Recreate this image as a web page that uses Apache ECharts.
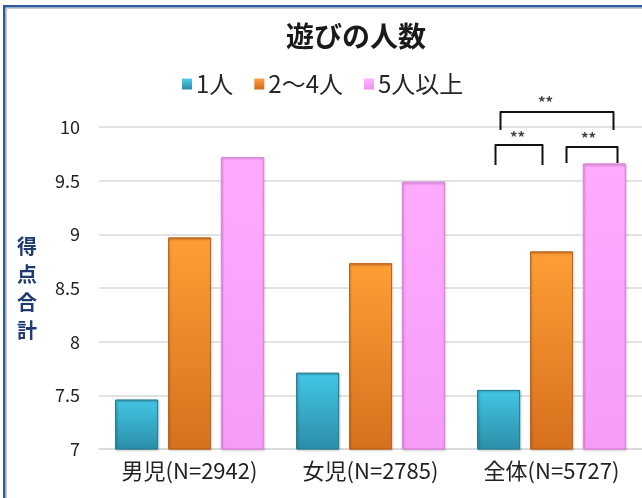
<!DOCTYPE html>
<html><head><meta charset="utf-8">
<script src="https://cdn.jsdelivr.net/npm/echarts@6/dist/echarts.min.js"></script>
<style>html,body{margin:0;padding:0;background:#fff}#c{width:642px;height:498px}</style>
</head><body><div id="c"></div>
<script>
const categories = ['男児(N=2942)', '女児(N=2785)', '全体(N=5727)'];
const seriesNames = ['1人', '2〜4人', '5人以上'];
const one = [7.46, 7.71, 7.55];
const twoToFour = [8.97, 8.73, 8.84];
const fivePlus = [9.72, 9.49, 9.66];
const yTicks = [7, 7.5, 8, 8.5, 9, 9.5, 10];

const FONT = '"Noto Sans CJK JP", "Noto Sans", sans-serif';
function grad(top, bottom) {
  return new echarts.graphic.LinearGradient(0, 0, 0, 1, [
    {offset: 0, color: top}, {offset: 1, color: bottom}
  ]);
}
const styles = [
  {color: grad('#43C6E6', '#2B8EA8'), borderColor: '#2A8199', legend: grad('#4FD0EE', '#2A8AA4')},
  {color: grad('#FF9E35', '#D6701E'), borderColor: '#C0641A', legend: grad('#FFA040', '#D06A18')},
  {color: grad('#FFAAFF', '#F69CF6'), borderColor: '#DE88DE', legend: grad('#FFB8FF', '#EE90EE')}
];
const dataSets = [one, twoToFour, fivePlus];

const chart = echarts.init(document.getElementById('c'), null, {renderer: 'canvas'});
chart.setOption({
  animation: false,
  textStyle: {fontFamily: FONT},
  title: {
    text: '遊びの人数', left: 351, top: 17, textAlign: 'center',
    textStyle: {fontSize: 28, fontWeight: 'bold', color: '#1a1a1a', fontFamily: FONT}
  },
  legend: {
    left: 177, top: 67, itemWidth: 10, itemHeight: 11, itemGap: 21, icon: 'rect',
    textStyle: {fontSize: 24, color: '#262626', fontWeight: 'normal', padding: [0, 0, 0, -1]},
    data: seriesNames.map((n, i) => ({name: n, itemStyle: {color: styles[i].legend, borderWidth: 0}}))
  },
  grid: {left: 99, right: 0, top: 127, bottom: 49, containLabel: false},
  xAxis: {
    type: 'category', data: categories,
    axisLine: {lineStyle: {color: '#D9D9D9', width: 1.5}},
    axisTick: {show: false},
    axisLabel: {fontSize: 22, color: '#222', margin: 11}
  },
  yAxis: {
    type: 'value', min: yTicks[0], max: yTicks[yTicks.length - 1], interval: 0.5,
    name: '得\n点\n合\n計', nameLocation: 'middle', nameRotate: 0, nameGap: 62,
    nameTextStyle: {fontSize: 20, fontWeight: 'bold', color: '#1F3B73', lineHeight: 28},
    axisLine: {show: false}, axisTick: {show: false},
    axisLabel: {fontSize: 18, color: '#222', margin: 19},
    splitLine: {lineStyle: {color: '#D9D9D9', width: 1.5}}
  },
  series: seriesNames.map((n, i) => ({
    name: n, type: 'bar', data: dataSets[i], barWidth: 43, barGap: '23%',
    itemStyle: {color: styles[i].color, borderColor: styles[i].borderColor, borderWidth: 1,
      shadowColor: 'rgba(0,0,0,0.25)', shadowBlur: 2, shadowOffsetX: 1, shadowOffsetY: 1}
  }))
});

const cx = chart.convertToPixel({xAxisIndex: 0}, categories[2]);
function bracket(x1, x2, yTop, yBot) {
  return {type: 'polyline', shape: {points: [[x1, yBot], [x1, yTop], [x2, yTop], [x2, yBot]]},
    style: {stroke: '#111', lineWidth: 2, fill: null, lineJoin: 'round'}, z: 10};
}
function stars(x, y) {
  return {type: 'text', style: {text: '**', x: x, y: y, fill: '#444', font: 'bold 15px ' + FONT, align: 'center', verticalAlign: 'middle'}, z: 10};
}
chart.setOption({
  graphic: [
    {type: 'rect', shape: {x: 3, y: 5, width: 639, height: 2.5}, style: {fill: '#2E5A9E'}},
    {type: 'rect', shape: {x: 3, y: 5, width: 2.5, height: 493}, style: {fill: '#2E5A9E'}},
    {type: 'rect', shape: {x: 6, y: 8, width: 636, height: 1}, style: {fill: '#C8C8C8'}},
    {type: 'rect', shape: {x: 6, y: 8, width: 1, height: 490}, style: {fill: '#C8C8C8'}},
    bracket(cx - 51, cx + 62, 112, 130), stars(cx - 6, 102),
    bracket(cx - 56, cx - 9, 145, 165), stars(cx - 34, 137),
    bracket(cx + 15, cx + 66, 147, 163), stars(cx + 37, 138)
  ]
});
</script></body></html>
